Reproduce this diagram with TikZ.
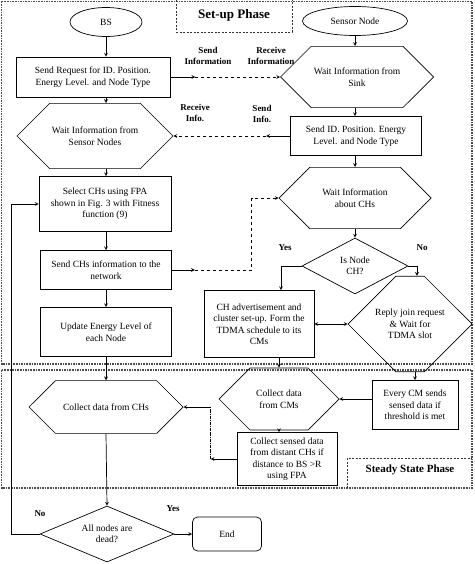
\documentclass[tikz,border=0pt]{standalone}
\usepackage{fontspec}
\setmainfont{Liberation Serif}
\usetikzlibrary{shapes.geometric,shapes.misc}

\begin{document}
\begin{tikzpicture}[>=stealth, x=1pt, y=-1pt, line width=0.7pt,
    every node/.style={font=\fontsize{9.5}{11.5}\selectfont, align=center, inner sep=0pt},
    box/.style={draw, rectangle},
    hexa/.style={draw, chamfered rectangle, chamfered rectangle xsep=#1},
    term/.style={draw, ellipse},
    dec/.style={draw, diamond, aspect=#1},
    lbl/.style={font=\fontsize{9}{11}\selectfont\bfseries},
    frame/.style={draw=black!70, line width=1.3pt, dash pattern=on 1.6pt off 1pt},
    phase/.style={draw=black!80, line width=0.6pt, dash pattern=on 2pt off 1.5pt}]
    \useasboundingbox (0, 0) rectangle (474, 564);
    \draw[frame] (1.5, 1.5) rectangle (472, 364);
    \draw[frame] (1.5, 370) rectangle (472, 488);
    \draw[phase] (176, 0.5) -- (176, 32) -- (292, 32) -- (292, 0.5);
    \node[font=\fontsize{13}{15}\selectfont\bfseries] (setup) at (234, 15) {Set-up Phase};
    \draw[phase] (347, 488) -- (347, 458) -- (472, 458);
    \node[font=\fontsize{11}{13}\selectfont\bfseries] (steady) at (410, 470) {Steady State Phase};

    \node[term, minimum width=72, minimum height=29] (bs) at (106, 22) {BS};
    \node[box, minimum width=154, minimum height=40] (req) at (93, 77) {Send Request for ID. Position.\\Energy Level. and Node Type};
    \node[hexa=36pt, minimum width=156, minimum height=47, chamfered rectangle ysep=23.5pt] (wsn) at (95, 136) {Wait Information from\\Sensor Nodes};
    \node[box, minimum width=132, minimum height=55] (sel) at (105, 204) {Select CHs using FPA\\shown in Fig. 3 with Fitness\\function (9)};
    \node[box, minimum width=131, minimum height=39] (sci) at (106, 270) {Send CHs information to the\\network};
    \node[box, minimum width=131, minimum height=49] (upd) at (106, 332) {Update Energy Level of\\each Node};
    \node[hexa=40pt, minimum width=154, minimum height=46, chamfered rectangle ysep=23pt] (cdh) at (106, 407) {Collect data from CHs};
    \node[dec=2.4, minimum width=134, minimum height=56] (dead) at (107, 534) {All nodes are\\dead?};
    \node[draw, rounded corners=5pt, minimum width=69, minimum height=34] (fin) at (227, 534) {End};

    \node[term, minimum width=105, minimum height=29] (sn) at (355, 21) {Sensor Node};
    \node[hexa=40pt, minimum width=153, minimum height=43, chamfered rectangle ysep=21.5pt] (sink) at (357, 77) {Wait Information from\\Sink};
    \node[box, minimum width=131, minimum height=39] (sid) at (356, 136) {Send ID. Position. Energy\\Level. and Node Type};
    \node[hexa=31pt, minimum width=152, minimum height=43, chamfered rectangle ysep=21.5pt] (wch) at (355, 198) {Wait Information\\about CHs};
    \node[dec=1.9, minimum width=106, minimum height=56] (isch) at (355, 266) {Is Node\\CH?};
    \node[box, minimum width=110, minimum height=67] (adv) at (259, 324) {CH advertisement and\\cluster set-up. Form the\\TDMA schedule to its\\CMs};
    \node[hexa=22pt, minimum width=124, minimum height=66, chamfered rectangle ysep=33pt] (rep) at (410, 324) {Reply join request\\\& Wait for\\TDMA slot};
    \node[hexa=28pt, minimum width=120, minimum height=44, chamfered rectangle ysep=22pt] (cdm) at (279, 399) {Collect data\\from CMs};
    \node[box, minimum width=86, minimum height=49] (ecm) at (415, 405) {Every CM sends\\sensed data if\\threshold is met};
    \node[box, minimum width=100, minimum height=53] (csd) at (287, 459) {Collect sensed data\\from distant CHs if\\distance to BS >R\\using FPA};

    \draw[->] (bs.south) -- (bs.south |- req.north);
    \draw[->] (req.south -| bs) -- (wsn.north -| bs);
    \draw[->] (wsn.south -| bs) -- (sel.north -| bs);
    \draw[->] (sel.south -| bs) -- (sci.north -| bs);
    \draw[->] (sci.south -| bs) -- (upd.north -| bs);
    \draw[->] (upd.south -| bs) -- (cdh.north -| bs);
    \draw[->] (cdh.south) -- (dead.north);
    \draw[->] (dead.east) -- (fin.west);
    \draw[->] (dead.west) -- ++(-28, 0) |- (sel.west);
    \node[lbl] (yes2) at (173, 509) {Yes};
    \node[lbl] (no2) at (40, 514) {No};

    \draw[->] (sn.south) -- (sn.south |- sink.north);
    \draw[->] (sink.south -| sn) -- (sid.north -| sn);
    \draw[->] (sid.south -| sn) -- (wch.north -| sn);
    \draw[->] (wch.south) -- (isch.north);
    \draw[->] (isch.west) -| ([xshift=22pt]adv.north);
    \draw[->] (isch.east) -| ([xshift=7pt]rep.north);
    \node[lbl] (yes1) at (285, 248) {Yes};
    \node[lbl] (no1) at (422, 248) {No};
    \draw[<->] (adv.east) -- (adv.east -| rep.west);
    \draw[->] (cdm.north |- adv.south) -- (cdm.north);
    \draw[->] (rep.south -| ecm) -- (ecm.north);
    \draw[->] (ecm.west |- cdm.east) -- (cdm.east);
    \draw[->] (cdm.south) -- (cdm.south |- csd.north);
    \draw[->] (csd.west) -- ++(-26, 0) coordinate (dd);
    \draw[densely dash dot, line width=0.5pt] (dd) -- (dd |- cdh.east);
    \draw[->] (dd |- cdh.east) -- (cdh.east);

    \draw[->] (req.east) -- ++(25, 0) coordinate (r1);
    \draw[dashed, ->] (r1) -- (sink.west);
    \node[lbl] (snd1) at (208, 56) {Send\\Information};
    \node[lbl] (rcv1) at (271, 56) {Receive\\Information};
    \draw[->] (sid.west) -- ++(-24, 0) coordinate (r2);
    \draw[dashed, ->] (r2) -- (wsn.east);
    \node[lbl] (snd2) at (262, 114) {Send\\Info.};
    \node[lbl] (rcv2) at (195, 113) {Receive\\Info.};
    \draw[->] (sci.east) -- ++(23, 0) coordinate (r3);
    \draw[dashed, ->] (r3) -| ([xshift=-27pt]wch.west) -- (wch.west);
  \end{tikzpicture}
\end{document}
